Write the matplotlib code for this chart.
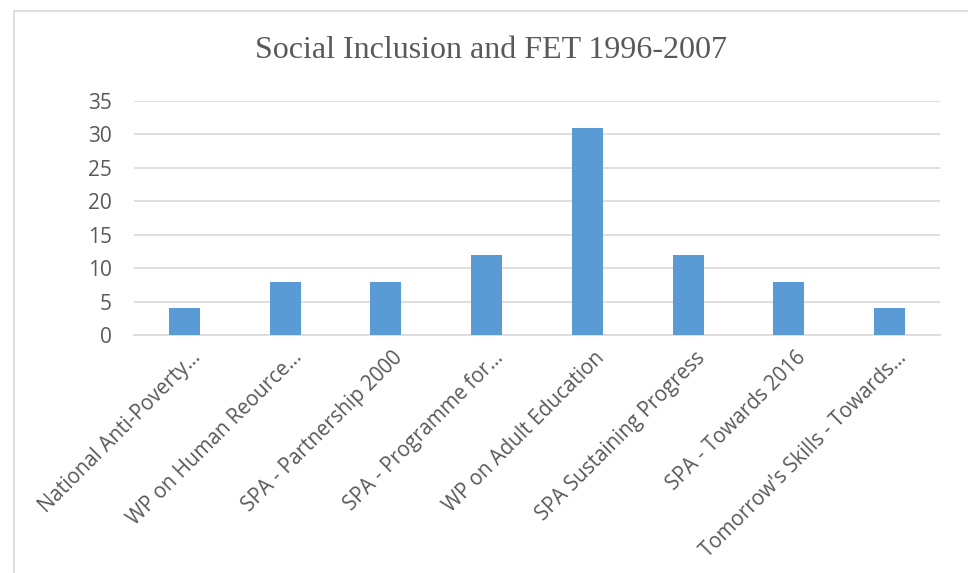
import matplotlib
matplotlib.use("Agg")
import matplotlib.pyplot as plt
from matplotlib.patches import Rectangle
from matplotlib.transforms import ScaledTranslation

categories = [
    "National Anti-Poverty…",
    "WP on Human Reource…",
    "SPA - Partnership 2000",
    "SPA - Programme for…",
    "WP on Adult Education",
    "SPA Sustaining Progress",
    "SPA - Towards 2016",
    "Tomorrow's Skills - Towards…",
]
values = [4, 8, 8, 12, 31, 12, 8, 4]
yticks = [0, 5, 10, 15, 20, 25, 30, 35]

bar_color = "#5B9BD5"
text_color = "#595959"
grid_color = "#D9D9D9"

W, H = 968, 573
fig = plt.figure(figsize=(W / 100, H / 100), dpi=100)

# outer chart frame (runs off the right and bottom edges)
fig.patches.append(Rectangle((14 / W, -0.05), 1.2, 1 - 11 / H + 0.05,
                             transform=fig.transFigure, fill=False,
                             edgecolor=grid_color, linewidth=1.2))

left, right = 134 / W, 940 / W
top, bottom = 1 - 101 / H, 1 - 335 / H
ax = fig.add_axes([left, bottom, right - left, top - bottom])

x = list(range(len(categories)))
ax.bar(x, values, width=0.31, color=bar_color, zorder=3)

ax.set_xlim(-0.5, len(categories) - 0.5)
ax.set_ylim(0, 35)
ax.set_yticks(yticks)
ax.set_yticklabels([str(t) for t in yticks])
ax.yaxis.grid(True, color=grid_color, linewidth=1.2, zorder=0)
ax.set_axisbelow(True)

for s in ["top", "right", "left"]:
    ax.spines[s].set_visible(False)
ax.spines["bottom"].set_color(grid_color)
ax.spines["bottom"].set_linewidth(1.2)

ax.tick_params(axis="y", length=0, pad=16, labelsize=15, labelcolor=text_color)
ax.tick_params(axis="x", length=0, pad=6)
ax.set_xticks(x)
ax.set_xticklabels(categories, rotation=45, ha="right", va="top",
                   rotation_mode="anchor", fontsize=14.8, color=text_color)
shift = ScaledTranslation(6 / 100, -4 / 100, fig.dpi_scale_trans)
for lab in ax.get_xticklabels():
    lab.set_family("Open Sans")
    lab.set_transform(lab.get_transform() + shift)
for lab in ax.get_yticklabels():
    lab.set_family("Open Sans")

fig.text(491 / W, 1 - 50 / H, "Social Inclusion and FET 1996-2007",
         ha="center", va="center", fontsize=23, color=text_color,
         family="Liberation Serif")

fig.savefig("out.png", dpi=100)
